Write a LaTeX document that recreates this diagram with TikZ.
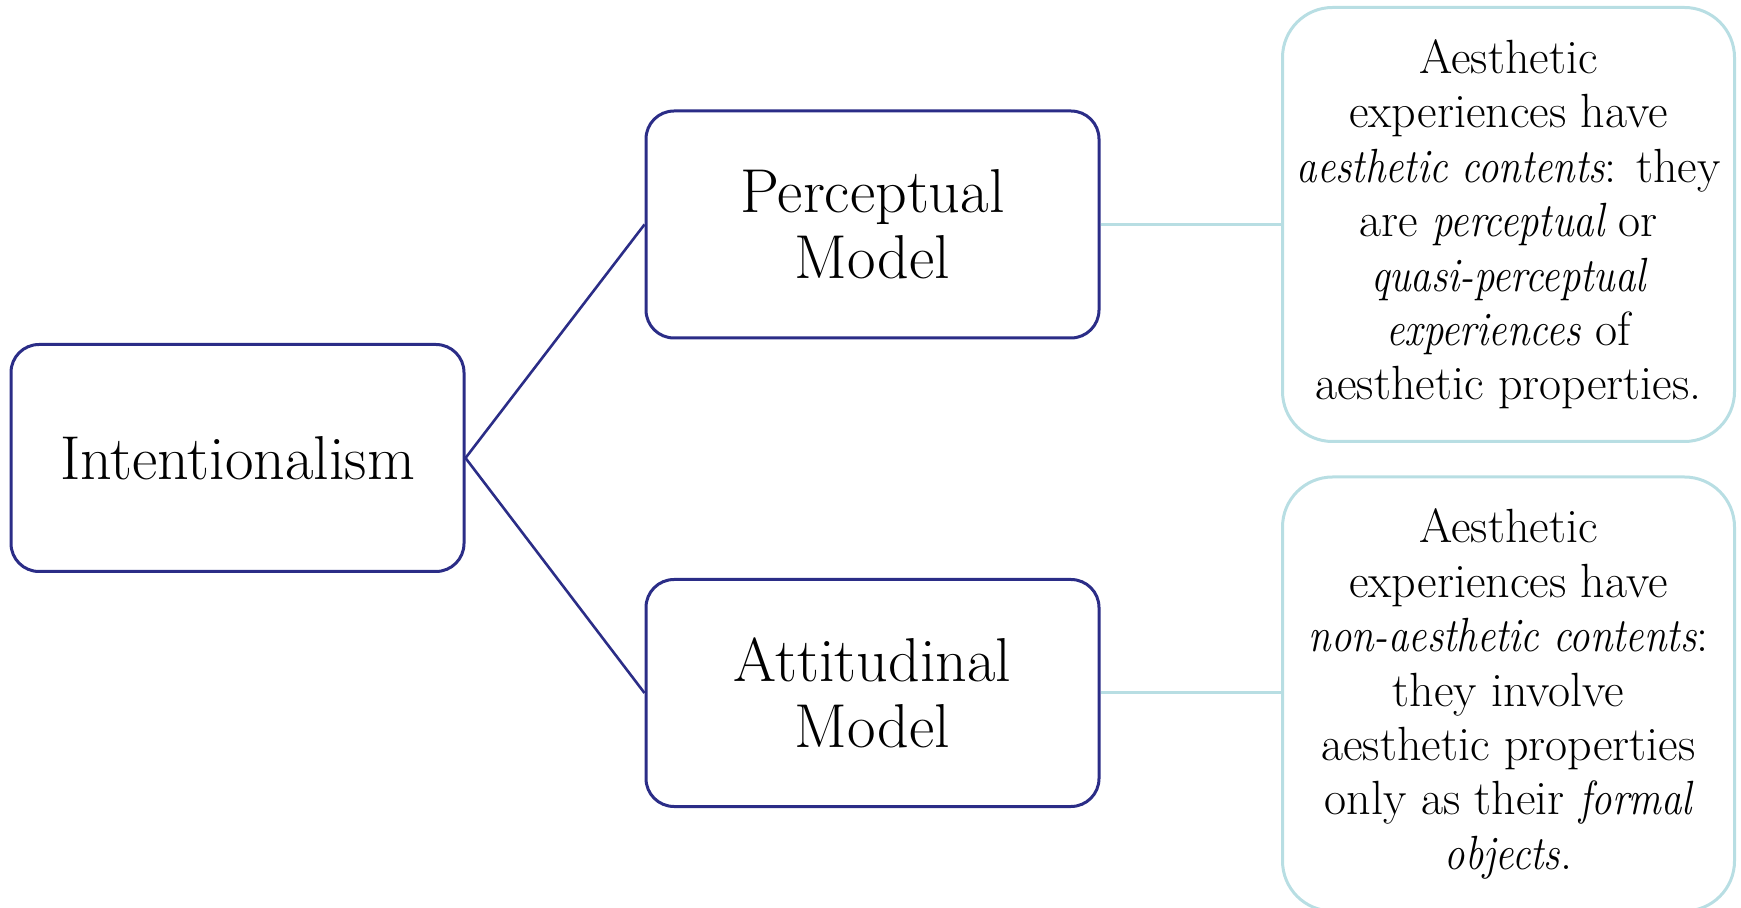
\documentclass[tikz,border=0pt]{standalone}
\usepackage{graphicx}
\definecolor{navy}{RGB}{43,45,135}
\definecolor{lightblue}{RGB}{184,222,227}
\newcommand{\itn}[1]{\scalebox{0.85}[1]{\itshape #1}}
\tikzset{
  mainbox/.style={draw=navy, line width=1.5pt, rounded corners=14pt, minimum width=226.5pt, minimum height=113.5pt, align=center, inner sep=0pt, font=\fontsize{31}{33}\selectfont},
  descbox/.style={draw=lightblue, line width=1.5pt, rounded corners=25pt, minimum width=226pt, minimum height=217pt, align=center, inner sep=0pt, font=\fontsize{24}{27.2}\selectfont},
  navyline/.style={draw=navy, line width=1.3pt},
  blueline/.style={draw=lightblue, line width=1.5pt}
}
\begin{document}
\begin{tikzpicture}[x=0.5pt,y=-0.5pt]
\useasboundingbox (0,0) rectangle (1741,908);
\node[mainbox] (int) at (237.5,458) {Intentionalism};
\node[mainbox] (perc) at (872.5,224.5) {Perceptual\\Model};
\node[mainbox] (att) at (872.5,693) {Attitudinal\\Model};
\node[descbox] (d1) at (1508.5,224.5) {Aesthetic\\experiences have\\\itn{aesthetic contents}: they\\are \itn{perceptual} or\\\itn{quasi-perceptual}\\\itn{experiences} of\\aesthetic properties.};
\node[descbox] (d2) at (1508.5,694) {Aesthetic\\experiences have\\\itn{non-aesthetic contents}:\\they involve\\aesthetic properties\\only as their \itn{formal}\\\itn{objects}.};
\draw[navyline] (int.east) -- (perc.west);
\draw[navyline] (int.east) -- (att.west);
\draw[blueline] (perc.east) -- (perc.east -| d1.west);
\draw[blueline] (att.east) -- (att.east -| d2.west);
\end{tikzpicture}
\end{document}
